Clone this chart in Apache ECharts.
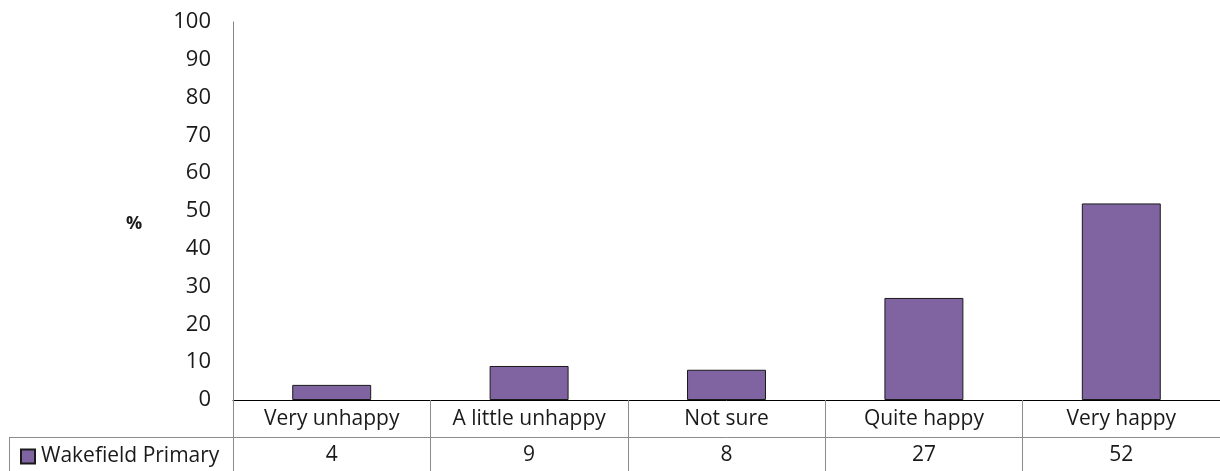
<!DOCTYPE html>
<html>
<head>
<meta charset="utf-8">
<script src="https://cdn.jsdelivr.net/npm/echarts@6/dist/echarts.min.js"></script>
<style>
  html, body { margin: 0; padding: 0; background: #fff; }
  #chart { width: 1220px; height: 471px; }
</style>
</head>
<body>
<div id="chart"></div>
<script>
// Survey responses: share of pupils (%) by answer
const categories = ['Very unhappy', 'A little unhappy', 'Not sure', 'Quite happy', 'Very happy'];
const seriesName = 'Wakefield Primary';
const values = [4, 9, 8, 27, 52];

const FONT = '"Open Sans", Lato, sans-serif';
const FS = 21;
const TEXT = '#1a1a1a';
const GRID_LINE = '#8c8c8c';

const chart = echarts.init(document.getElementById('chart'));

chart.setOption({
  animation: false,
  textStyle: { fontFamily: FONT },
  // the right edge of the plot/table runs just past the canvas
  grid: { left: 233, right: -2, top: 22, bottom: 71 },
  legend: {
    left: 15, top: 441,
    icon: 'rect', itemWidth: 14, itemHeight: 14, itemGap: 4,
    textStyle: { fontSize: FS, color: TEXT, fontFamily: FONT, padding: [0, 0, 0, 1] },
    data: [seriesName]
  },
  xAxis: [
    {
      type: 'category',
      data: categories,
      position: 'bottom',
      axisLine: { show: true, lineStyle: { color: '#000', width: 1 } },
      axisTick: { show: true, alignWithLabel: false, length: 37, lineStyle: { color: GRID_LINE } },
      axisLabel: { fontSize: FS, color: TEXT, margin: 9, fontFamily: FONT, interval: 0 }
    },
    {
      // data-table row with the values under each category
      type: 'category',
      data: values.map(String),
      position: 'bottom',
      offset: 37,
      axisLine: { show: true, lineStyle: { color: GRID_LINE, width: 1 } },
      axisTick: { show: true, alignWithLabel: false, length: 40, lineStyle: { color: GRID_LINE } },
      axisLabel: { fontSize: FS, color: TEXT, margin: 8, fontFamily: FONT, interval: 0 }
    }
  ],
  yAxis: {
    type: 'value',
    min: 0, max: 100, interval: 10,
    axisLine: { show: true, lineStyle: { color: '#868686', width: 1 } },
    axisTick: { show: false },
    splitLine: { show: false },
    axisLabel: { fontSize: 22, color: TEXT, margin: 22, fontFamily: FONT }
  },
  series: [{
    name: seriesName,
    type: 'bar',
    xAxisIndex: 0,
    data: values,
    barCategoryGap: '60%',
    itemStyle: { color: '#8064A2', borderColor: '#1a1a1a', borderWidth: 1 }
  }],
  graphic: [
    // y-axis title
    { type: 'text', x: 134, y: 223.5,
      style: { text: '%', font: 'bold 18px ' + FONT, fill: TEXT, align: 'center', verticalAlign: 'middle' } },
    // left part of the data-table frame around the legend cell
    { type: 'line', shape: { x1: 9, y1: 437.5, x2: 233, y2: 437.5 }, style: { stroke: GRID_LINE, lineWidth: 1 } },
    { type: 'line', shape: { x1: 9.5, y1: 437, x2: 9.5, y2: 471 }, style: { stroke: GRID_LINE, lineWidth: 1 } }
  ]
});
</script>
</body>
</html>
